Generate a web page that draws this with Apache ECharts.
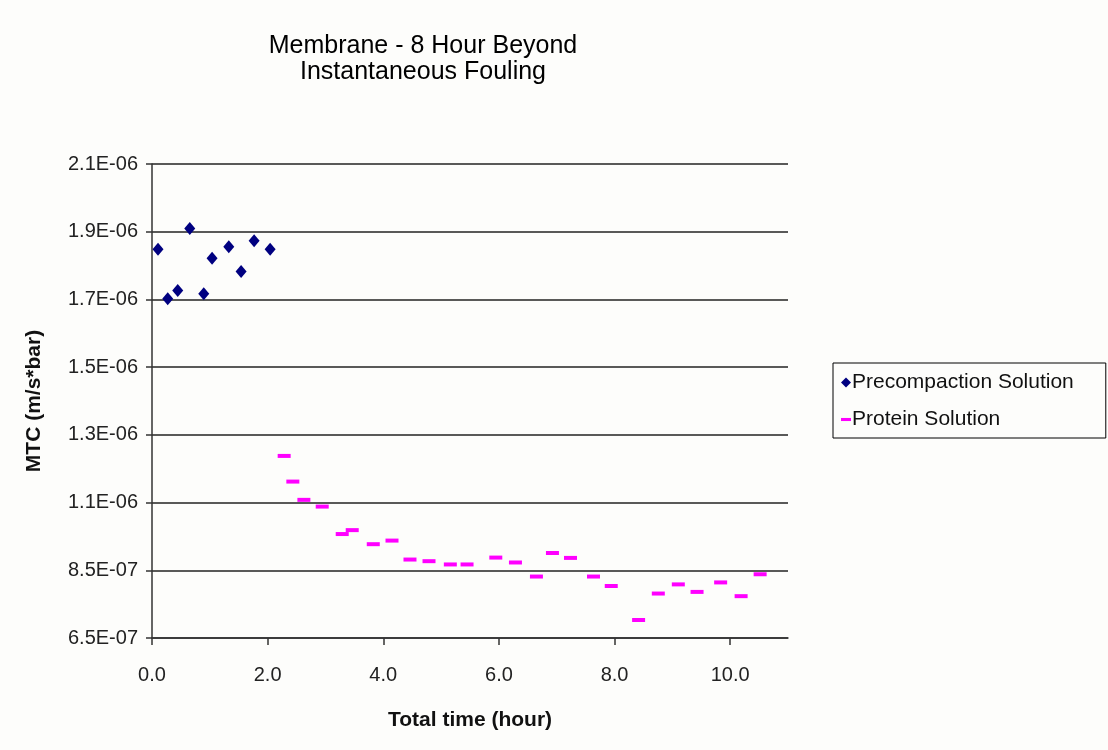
<!DOCTYPE html>
<html><head><meta charset="utf-8">
<script src="https://cdn.jsdelivr.net/npm/echarts@6/dist/echarts.min.js"></script>
<style>html,body{margin:0;padding:0;background:#fdfdfb;}#c{width:1108px;height:750px;}</style>
</head><body><div id="c"></div>
<script>
const titleText = 'Membrane - 8 Hour Beyond\nInstantaneous Fouling';
const xName = 'Total time (hour)';
const yName = 'MTC (m/s*bar)';
const seriesNames = ['Precompaction Solution', 'Protein Solution'];
const yTickLabels = ['6.5E-07','8.5E-07','1.1E-06','1.3E-06','1.5E-06','1.7E-06','1.9E-06','2.1E-06'];
const xTickValues = [0, 2, 4, 6, 8, 10];

const preTime = [0.104, 0.272, 0.445, 0.653, 0.895, 1.039, 1.328, 1.541, 1.766, 2.043];
const preMTC  = [1.839e-6, 1.688e-6, 1.713e-6, 1.903e-6, 1.703e-6, 1.812e-6, 1.847e-6, 1.771e-6, 1.865e-6, 1.839e-6];

const proTime = [2.286, 2.436, 2.627, 2.944, 3.290, 3.463, 3.827, 4.151, 4.462, 4.791, 5.160, 5.449, 5.946,
                 6.286, 6.649, 6.926, 7.238, 7.636, 7.943, 8.416, 8.757, 9.103, 9.427, 9.835, 10.189, 10.518];
const proMTC  = [1.207e-6, 1.1285e-6, 1.0726e-6, 1.052e-6, 9.68e-7, 9.80e-7, 9.37e-7, 9.48e-7, 8.90e-7, 8.85e-7, 8.75e-7, 8.75e-7, 8.96e-7,
                 8.81e-7, 8.38e-7, 9.10e-7, 8.95e-7, 8.38e-7, 8.09e-7, 7.05e-7, 7.86e-7, 8.14e-7, 7.91e-7, 8.20e-7, 7.78e-7, 8.45e-7];

const yMin = 6.5e-7, yMax = 2.1e-6;
const yStep = (yMax - yMin) / (yTickLabels.length - 1);
const yTickValues = yTickLabels.map((_, i) => yMin + i * yStep);

const font = '"Liberation Sans", Arial, sans-serif';
const chart = echarts.init(document.getElementById('c'), null, {renderer: 'canvas'});
chart.setOption({
  backgroundColor: '#fdfdfb',
  animation: false,
  title: {
    text: titleText, left: 418, top: 28, textAlign: 'center',
    textStyle: {fontFamily: font, fontSize: 25, fontWeight: 'normal', color: '#000', lineHeight: 26}
  },
  legend: {
    orient: 'vertical', left: 833, top: 363,
    borderColor: '#000', borderWidth: 1, padding: [9, 32, 8, 8],
    itemGap: 16, itemWidth: 10, itemHeight: 10,
    textStyle: {fontFamily: font, fontSize: 21, color: '#111', padding: [0, 0, 0, -4]},
    data: [
      {name: seriesNames[0], icon: 'diamond', itemStyle: {color: '#000080'}},
      {name: seriesNames[1], icon: 'path://M0,0H13V4H0Z', itemStyle: {color: '#ff00ff'}}
    ]
  },
  grid: {left: 152, right: 320, top: 164, bottom: 112, containLabel: false},
  xAxis: {
    type: 'value', min: 0, max: 11,
    name: xName, nameLocation: 'middle', nameGap: 72,
    nameTextStyle: {fontFamily: font, fontSize: 21, fontWeight: 'bold', color: '#111'},
    axisLine: {show: true, onZero: false, lineStyle: {color: '#333', width: 1.5}},
    axisTick: {show: true, customValues: xTickValues, length: 7, lineStyle: {color: '#333', width: 1.5}},
    axisLabel: {customValues: xTickValues, fontFamily: font, fontSize: 20, color: '#222', margin: 27,
                formatter: v => v.toFixed(1)},
    splitLine: {show: false}
  },
  yAxis: {
    type: 'value', min: yMin, max: yMax,
    name: yName, nameLocation: 'middle', nameGap: 107,
    nameTextStyle: {fontFamily: font, fontSize: 21, fontWeight: 'bold', color: '#111'},
    axisLine: {show: true, onZero: false, lineStyle: {color: '#333', width: 1.5}},
    axisTick: {show: true, customValues: yTickValues, length: 6, lineStyle: {color: '#333', width: 1.5}},
    axisLabel: {customValues: yTickValues, fontFamily: font, fontSize: 20, color: '#222', margin: 14,
                formatter: v => yTickLabels[Math.round((v - yMin) / yStep)]},
    splitLine: {show: true, customValues: yTickValues, lineStyle: {color: '#222', width: 1.5}}
  },
  series: [
    {
      name: seriesNames[0], type: 'scatter', symbol: 'diamond', symbolSize: [11, 13],
      itemStyle: {color: '#000080', opacity: 1},
      data: preTime.map((t, i) => [t, preMTC[i]])
    },
    {
      name: seriesNames[1], type: 'scatter', symbol: 'rect', symbolSize: [13, 4],
      itemStyle: {color: '#ff00ff', opacity: 1},
      data: proTime.map((t, i) => [t, proMTC[i]])
    }
  ]
});
</script></body></html>
